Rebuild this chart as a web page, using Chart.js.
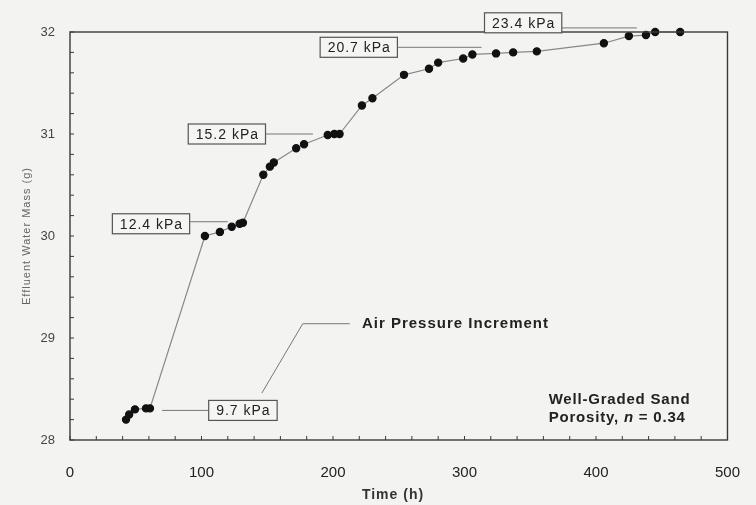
<!DOCTYPE html>
<html>
<head>
<meta charset="utf-8">
<script src="https://cdn.jsdelivr.net/npm/chart.js@4"></script>
<style>
  body { margin: 0; background: #f3f3f1; }
  #wrap { width: 756px; height: 505px; }
</style>
</head>
<body>
<div id="wrap"><canvas id="myChart" width="756" height="505"></canvas></div>
<script>
// elapsed time (h) and effluent water mass (g)
const times = [42.6, 45, 49.4, 57.8, 60.8, 102.6, 114, 123, 129, 131.5, 147, 152, 155, 172, 178, 196, 201, 205,
    222, 230, 254, 273, 280, 299, 306, 324, 337, 355, 406, 425, 438, 445, 464];
const masses = [28.20, 28.25, 28.30, 28.31, 28.31, 30.00, 30.04, 30.09, 30.12, 30.13, 30.60, 30.68, 30.72, 30.86, 30.90, 30.99, 31.00, 31.00,
    31.28, 31.35, 31.58, 31.64, 31.70, 31.74, 31.78, 31.79, 31.80, 31.81, 31.89, 31.96, 31.97, 32.00, 32.00];

// pressure step labels
const pressureLabels = ['9.7 kPa', '12.4 kPa', '15.2 kPa', '20.7 kPa', '23.4 kPa'];
const xTicks = [0, 100, 200, 300, 400, 500];
const yTicks = [28, 29, 30, 31, 32];

// where the boxes sit (data coords) and where their leader lines end
const boxAt = [[131.5, 28.29], [61.6, 30.12], [119.3, 31.0], [219.6, 31.85], [344.6, 32.09]];
const leaderTo = [[70, 28.29], [120, 30.14], [184.7, 31.0], [313, 31.85], [431, 32.04]];

const points = times.map((t, i) => ({x: t, y: masses[i]}));

const decor = {
    id: 'decor',
    afterDraw(chart) {
        const ctx = chart.ctx;
        const xs = chart.scales.x, ys = chart.scales.y;
        const a = chart.chartArea;
        ctx.save();

        // frame
        ctx.strokeStyle = '#3a3a3a';
        ctx.lineWidth = 1.4;
        ctx.strokeRect(a.left, a.top, a.right - a.left, a.bottom - a.top);

        // inward ticks
        ctx.lineWidth = 1;
        ctx.beginPath();
        xs.ticks.forEach(t => {
            const px = xs.getPixelForValue(t.value);
            ctx.moveTo(px, a.bottom);
            ctx.lineTo(px, a.bottom - 4);
        });
        ys.ticks.forEach(t => {
            const py = ys.getPixelForValue(t.value);
            ctx.moveTo(a.left, py);
            ctx.lineTo(a.left + 4, py);
        });
        ctx.stroke();

        // pressure boxes
        ctx.font = '14px Arial, "Liberation Sans", sans-serif';
        ctx.letterSpacing = '1px';
        ctx.textBaseline = 'middle';
        ctx.textAlign = 'center';
        pressureLabels.forEach((lab, i) => {
            const cx = xs.getPixelForValue(boxAt[i][0]);
            const cy = ys.getPixelForValue(boxAt[i][1]);
            const w = ctx.measureText(lab).width + 14;
            const h = 20;
            ctx.fillStyle = '#f5f5f3';
            ctx.fillRect(cx - w / 2, cy - h / 2, w, h);
            ctx.strokeStyle = '#555';
            ctx.lineWidth = 1.2;
            ctx.strokeRect(cx - w / 2, cy - h / 2, w, h);
            ctx.fillStyle = '#222';
            ctx.fillText(lab, cx + 0.5, cy + 1);

            const lx = xs.getPixelForValue(leaderTo[i][0]);
            const ly = ys.getPixelForValue(leaderTo[i][1]);
            const ex = lx < cx ? cx - w / 2 : cx + w / 2;
            ctx.strokeStyle = '#777';
            ctx.lineWidth = 1;
            ctx.beginPath();
            ctx.moveTo(ex, ly);
            ctx.lineTo(lx, ly);
            ctx.stroke();
        });

        // air pressure increment callout
        ctx.strokeStyle = '#777';
        ctx.beginPath();
        ctx.moveTo(xs.getPixelForValue(145.9), ys.getPixelForValue(28.46));
        ctx.lineTo(xs.getPixelForValue(177), ys.getPixelForValue(29.14));
        ctx.lineTo(xs.getPixelForValue(212.8), ys.getPixelForValue(29.14));
        ctx.stroke();
        ctx.fillStyle = '#222';
        ctx.font = 'bold 15px Arial, "Liberation Sans", sans-serif';
        ctx.letterSpacing = '1px';
        ctx.textAlign = 'left';
        ctx.fillText('Air Pressure Increment', xs.getPixelForValue(222), ys.getPixelForValue(29.14));

        // material note
        ctx.font = 'bold 15px Arial, "Liberation Sans", sans-serif';
        ctx.letterSpacing = '0.8px';
        const nx = xs.getPixelForValue(364);
        ctx.fillText('Well-Graded Sand', nx, ys.getPixelForValue(28.39));
        const py = ys.getPixelForValue(28.22);
        let s = 'Porosity, ';
        ctx.fillText(s, nx, py);
        let off = ctx.measureText(s).width;
        ctx.font = 'italic bold 15px Arial, "Liberation Sans", sans-serif';
        ctx.fillText('n', nx + off, py);
        off += ctx.measureText('n').width;
        ctx.font = 'bold 15px Arial, "Liberation Sans", sans-serif';
        ctx.fillText(' = 0.34', nx + off, py);

        // axis titles
        ctx.textAlign = 'center';
        ctx.font = 'bold 14px Arial, "Liberation Sans", sans-serif';
        ctx.letterSpacing = '1px';
        ctx.fillStyle = '#333';
        ctx.fillText('Time (h)', 393, 495);
        ctx.save();
        ctx.translate(27, (a.top + a.bottom) / 2);
        ctx.rotate(-Math.PI / 2);
        ctx.font = '11px Arial, "Liberation Sans", sans-serif';
        ctx.letterSpacing = '1px';
        ctx.fillStyle = '#666';
        ctx.fillText('Effluent Water Mass (g)', 0, 0);
        ctx.restore();

        ctx.restore();
    }
};

new Chart(document.getElementById('myChart').getContext('2d'), {
    type: 'scatter',
    data: {
        datasets: [{
            data: points,
            showLine: true,
            borderColor: '#888',
            borderWidth: 1.2,
            pointBackgroundColor: '#111',
            pointBorderColor: '#111',
            pointRadius: 3.6,
            clip: false
        }]
    },
    options: {
        responsive: false,
        animation: false,
        layout: { padding: { top: 32, right: 23, left: 0, bottom: 0 } },
        plugins: { legend: { display: false }, tooltip: { enabled: false } },
        scales: {
            x: {
                type: 'linear', min: 0, max: 500,
                afterFit: s => { s.height = 65; },
                border: { display: false },
                grid: { display: false },
                ticks: {
                    stepSize: 20, autoSkip: false, maxRotation: 0, padding: 16,
                    color: '#222', font: { family: 'Arial', size: 15 },
                    callback: v => xTicks.includes(v) ? String(v) : ''
                }
            },
            y: {
                type: 'linear', min: 28, max: 32,
                afterFit: s => { s.width = 70; },
                border: { display: false },
                grid: { display: false },
                ticks: {
                    stepSize: 0.2, autoSkip: false, padding: 7,
                    color: '#444', font: { family: 'Arial', size: 13 },
                    callback: v => yTicks.some(t => Math.abs(t - v) < 1e-6) ? String(Math.round(v)) : ''
                }
            }
        }
    },
    plugins: [decor]
});
</script>
</body>
</html>
